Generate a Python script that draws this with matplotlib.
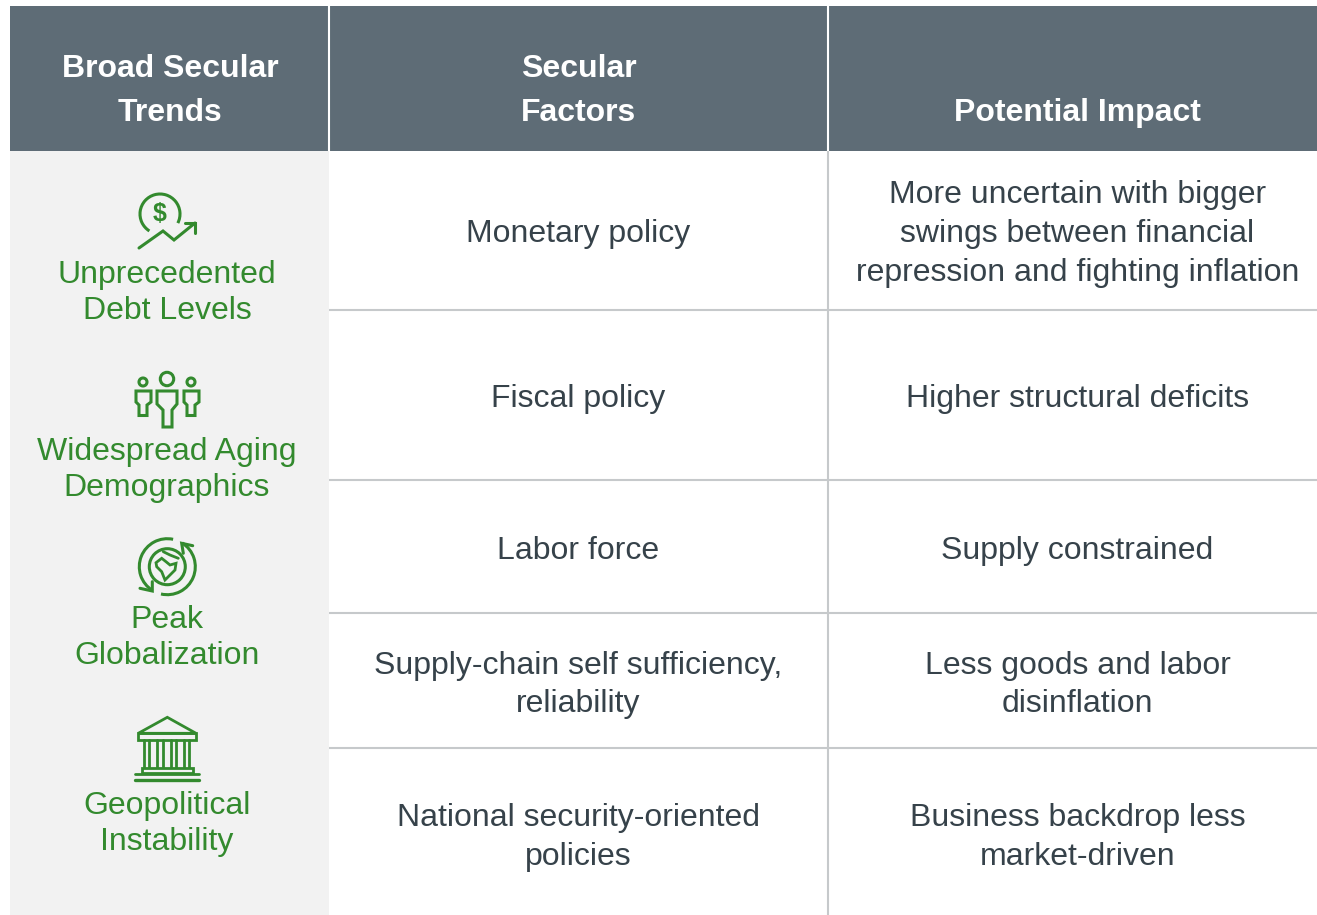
import numpy as np
import matplotlib
matplotlib.use('Agg')
import matplotlib.pyplot as plt
from matplotlib.patches import Rectangle, Circle, Arc, Polygon

plt.rcParams['font.family'] = ['Liberation Sans', 'DejaVu Sans']

headers = ['Broad Secular\nTrends', 'Secular\nFactors', 'Potential Impact']
trends = ['Unprecedented\nDebt Levels', 'Widespread Aging\nDemographics', 'Peak\nGlobalization', 'Geopolitical\nInstability']
factors = ['Monetary policy', 'Fiscal policy', 'Labor force',
           'Supply-chain self sufficiency,\nreliability', 'National security-oriented\npolicies']
impacts = ['More uncertain with bigger\nswings between financial\nrepression and fighting inflation',
           'Higher structural deficits', 'Supply constrained',
           'Less goods and labor\ndisinflation', 'Business backdrop less\nmarket-driven']

# layout, in pixels of the 1317x915 picture
col_edges = [10, 329, 828, 1317]
header_top = 6
header_bottom = 151
row_edges = [151, 310, 480, 613, 748, 915]
row_centers = [234, 399, 551, 685, 837.5]
trend_y = [293, 470, 638, 824]
col_centers = [170, 578.5, 1077.5]
trend_x = 167

GREEN = '#338a2e'
DARK = '#36424a'
HEAD = '#5e6c76'
GRID = '#c6c9cb'
SIDE = '#f2f2f2'
FS = 23

fig = plt.figure(figsize=(13.17, 9.15), dpi=100)
ax = fig.add_axes([0, 0, 1, 1])
ax.set_xlim(0, 1317)
ax.set_ylim(915, 0)
ax.axis('off')

# header and side column
ax.add_patch(Rectangle((col_edges[0], header_top), col_edges[3] - col_edges[0], header_bottom - header_top, fc=HEAD, ec='none'))
ax.add_patch(Rectangle((col_edges[0], header_bottom), col_edges[1] - col_edges[0], 915 - header_bottom, fc=SIDE, ec='none'))

# grid lines
for y in row_edges[1:-1]:
    ax.plot([col_edges[1], col_edges[3]], [y, y], color=GRID, lw=1.5, solid_capstyle='butt')
ax.plot([col_edges[2], col_edges[2]], [header_bottom, 915], color=GRID, lw=1.5, solid_capstyle='butt')
for x in col_edges[1:3]:
    ax.plot([x, x], [header_top, header_bottom], color='white', lw=1.5, solid_capstyle='butt')

# header text
ax.text(col_centers[0], 91, headers[0], color='white', fontsize=FS, fontweight='bold', ha='center', va='center', linespacing=1.58)
ax.text(col_centers[1], 91, headers[1], color='white', fontsize=FS, fontweight='bold', ha='center', va='center', linespacing=1.58)
ax.text(col_centers[2], 113, headers[2], color='white', fontsize=FS, fontweight='bold', ha='center', va='center')

# body text
for y, f, i in zip(row_centers, factors, impacts):
    ax.text(col_centers[1], y, f, color=DARK, fontsize=FS, ha='center', va='center', linespacing=1.37)
    ax.text(col_centers[2], y, i, color=DARK, fontsize=FS, ha='center', va='center', linespacing=1.37)
for y, t in zip(trend_y, trends):
    ax.text(trend_x, y, t, color=GREEN, fontsize=FS, ha='center', va='center', linespacing=1.25)


def line(xs, ys, lw=2.2):
    ax.plot(xs, ys, color=GREEN, lw=lw, solid_capstyle='round', solid_joinstyle='miter')


# icon: coin and rising arrow
ax.add_patch(Arc((160, 214), 40, 40, theta1=122, theta2=387, color=GREEN, lw=2.2))
ax.text(160, 214, '$', color=GREEN, fontsize=18, fontweight='bold', ha='center', va='center')
line([139, 163, 174, 195], [248, 231, 240, 223])
line([185, 195, 195], [223, 223, 233])

# icon: three people
for cx, cy, r in [(143, 382, 4), (167, 379, 6.7), (191, 382, 4)]:
    ax.add_patch(Circle((cx, cy), r, fc='none', ec=GREEN, lw=2.2))
for dx in [0, 48]:
    ax.add_patch(Polygon(np.array([(136, 391), (151, 391), (151, 402), (147, 405), (147, 415.5), (139, 415.5), (139, 405), (136, 402)]) + [dx, 0],
                         closed=True, fc='none', ec=GREEN, lw=2.2))
ax.add_patch(Polygon([(157, 391), (177, 391), (177, 404), (172, 410), (172, 427), (163, 427), (163, 410), (157, 404)],
                     closed=True, fc='none', ec=GREEN, lw=2.2))

# icon: globe with circling arrows
ax.add_patch(Circle((167.3, 566.7), 18, fc='none', ec=GREEN, lw=2.2))
ax.add_patch(Arc((167.3, 566.7), 56, 56, theta1=122, theta2=282, color=GREEN, lw=2.2))
ax.add_patch(Arc((167.3, 566.7), 56, 56, theta1=-58, theta2=103, color=GREEN, lw=2.2))
line([140, 152.3, 152.3], [588.3, 591, 581.7])
line([192.7, 181.7, 183.3], [545.7, 543.3, 553.3])
ax.add_patch(Polygon([(156, 562.7), (161.7, 558.3), (166, 561.7), (170, 565), (176, 563.3), (175, 570),
                      (170, 575), (165, 580), (161.7, 571.7), (156.7, 566.7)],
                     closed=True, fc='none', ec=GREEN, lw=2))
line([163.3, 170, 178.3], [551.7, 555, 558.3], lw=2)

# icon: bank building
ax.add_patch(Polygon([(138.3, 733.3), (167.3, 717.3), (196, 733.3)], closed=True, fc='none', ec=GREEN, lw=2))
ax.add_patch(Rectangle((138.3, 733.3), 57.7, 6.7, fc='none', ec=GREEN, lw=2))
for x in [144, 149.3, 157.3, 162.7, 171, 176, 184, 189.3]:
    line([x, x], [740, 767], lw=2)
ax.add_patch(Rectangle((141.7, 768), 51, 5.3, fc='none', ec=GREEN, lw=2))
line([135, 199], [774, 774], lw=2)
line([135, 199], [779.5, 779.5], lw=2.4)

fig.savefig('out.png', dpi=100)
